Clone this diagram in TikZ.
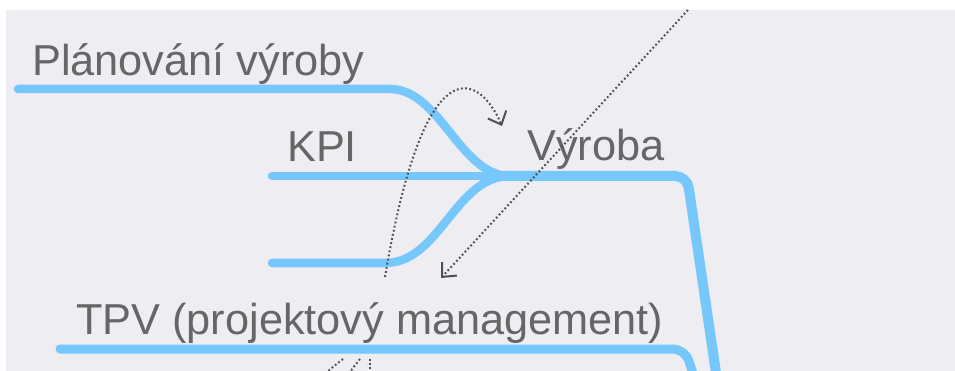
\documentclass[tikz,border=0pt]{standalone}
\usepackage{fontspec}
\setmainfont{Liberation Sans}
\usetikzlibrary{arrows.meta}
\definecolor{canvas}{HTML}{EEEDF2}
\definecolor{branch}{HTML}{76C7FC}
\definecolor{labelgrey}{HTML}{666666}
\definecolor{linkgrey}{HTML}{505050}
\tikzset{
  topic/.style={anchor=base west, inner sep=0pt, text=labelgrey,
    font=\fontsize{43.3}{50}\selectfont},
  limb/.style={draw=branch, line width=8.5pt, line cap=round},
  trunk/.style={draw=branch, line width=10pt, line cap=round, rounded corners=12pt},
  link/.style={draw=linkgrey, line width=2pt, line cap=butt,
    dash pattern=on 1.8pt off 2.4pt},
  linktip/.style={-{Straight Barb[length=11pt,width=20pt,line width=2pt]}},
}
\begin{document}
\begin{tikzpicture}[x=1pt,y=-1pt]
  \useasboundingbox (0,0) rectangle (955,371);
  \fill[canvas] (6,10) rectangle (955,371);
  \clip (6,10) rectangle (955,371);

  % labels
  \node[topic] (plan) at (32,76) {Plánování výroby};
  \node[topic] (kpi) at (287,162) {KPI};
  \node[topic] (vyr) at (527,161) {Výroba};
  \node[topic] (tpv) at (76,334) {TPV (projektový management)};

  % branch anchor points
  \coordinate (planA) at (18,89);
  \coordinate (planB) at (390,89);
  \coordinate (kpiA) at (272,176);
  \coordinate (lowA) at (272,263);
  \coordinate (lowB) at (385,263);
  \coordinate (join) at (510,176);
  \coordinate (vyrCorner) at (687,176);
  \coordinate (vyrEnd) at (720,400);
  \coordinate (tpvA) at (60,349);
  \coordinate (tpvCorner) at (685,349);
  \coordinate (tpvEnd) at (700,395);

  % sub-branches merging into the main branch
  \draw[limb] (planA) -- (planB) .. controls (440,89) and (460,176) .. (join);
  \draw[limb] (kpiA) -- (join);
  \draw[limb] (lowA) -- (lowB) .. controls (440,263) and (455,176) .. (join);

  % main branches
  \draw[trunk] (505,176) -- (vyrCorner) -- (vyrEnd);
  \draw[trunk, line width=9pt] (tpvA) -- (tpvCorner) -- (tpvEnd);

  % dotted relation links
  \coordinate (farTop) at (688,10);
  \coordinate (farTip) at (441,278);
  \draw[link, linktip] (farTop) -- (farTip);

  \coordinate (loopA) at (385,277);
  \coordinate (loopTip) at (502,126);
  \draw[link, linktip] (loopA) .. controls (425,40) and (480,75) .. (loopTip);

  \coordinate (s1a) at (343,359);
  \coordinate (s1b) at (313,383);
  \coordinate (s2a) at (360,359);
  \coordinate (s2b) at (341,383);
  \coordinate (s3a) at (370,359);
  \coordinate (s3b) at (370,383);
  \draw[link] (s1a) -- (s1b);
  \draw[link] (s2a) -- (s2b);
  \draw[link] (s3a) -- (s3b);
\end{tikzpicture}
\end{document}
